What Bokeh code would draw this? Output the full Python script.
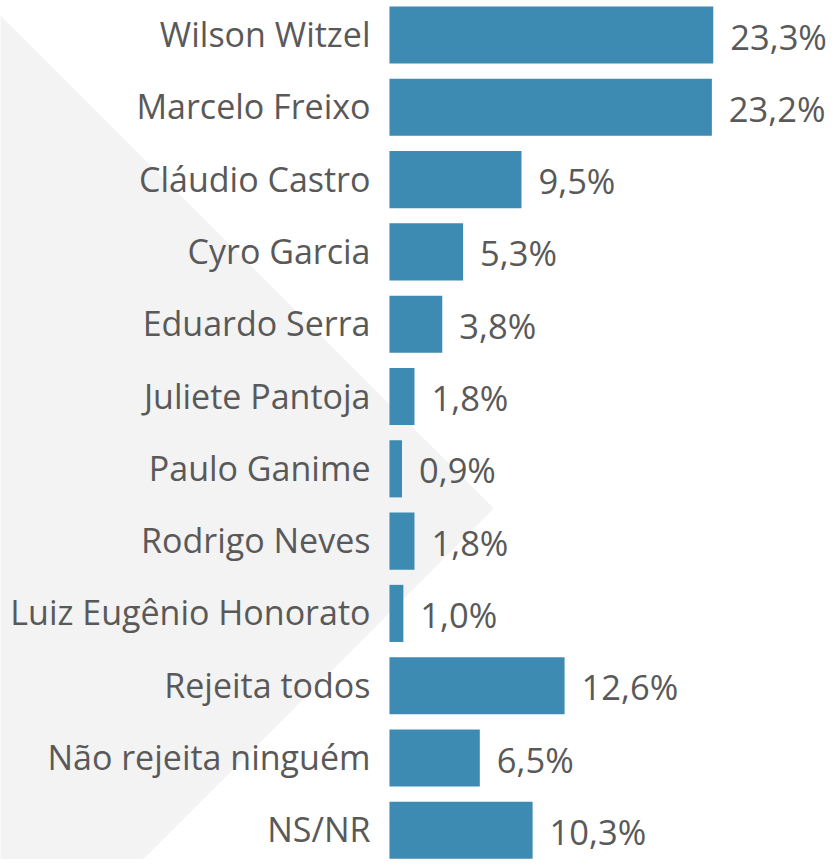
from bokeh.plotting import figure
from bokeh.models import Range1d, ColumnDataSource
from bokeh.core.properties import value
from bokeh.embed import file_html
from bokeh.resources import INLINE

categories = ["Wilson Witzel", "Marcelo Freixo", "Cláudio Castro", "Cyro Garcia",
              "Eduardo Serra", "Juliete Pantoja", "Paulo Ganime", "Rodrigo Neves",
              "Luiz Eugênio Honorato", "Rejeita todos", "Não rejeita ninguém", "NS/NR"]
values = [23.3, 23.2, 9.5, 5.3, 3.8, 1.8, 0.9, 1.8, 1.0, 12.6, 6.5, 10.3]
value_labels = [f"{v:.1f}".replace(".", ",") + "%" for v in values]

W, H = 832, 859
S = 0.9905                      # fit the 840x867 design into the figure
PX_PER_UNIT = 14.03 * S         # pixels per percentage point
X0 = 392.7 * S                  # pixel position of the bar baseline
ROW = 72.3                      # pixels per row
Y0 = 34.5                       # pixel centre of first row

BAR_COLOR = "#3d8ab2"
TEXT_COLOR = "#595959"
BG_SHAPE = "#f3f3f3"
FONT = "Open Sans"

p = figure(width=W, height=H, output_backend="svg", toolbar_location=None,
           x_range=Range1d(-X0 / PX_PER_UNIT, (W - X0) / PX_PER_UNIT),
           y_range=Range1d((H - Y0) / ROW, -Y0 / ROW),
           min_border=0, outline_line_color=None)
p.axis.visible = False
p.grid.visible = False
p.background_fill_color = "white"
p.border_fill_color = "white"

# decorative grey chevron in the background (pixel corners -> data units)
shape_px = [(-4, 10.9), (493.3, 508.1), (142.6, 859), (-4, 859)]
p.patch([(x - X0) / PX_PER_UNIT for x, _ in shape_px],
        [(y - Y0) / ROW for _, y in shape_px],
        fill_color=BG_SHAPE, line_color=None)

idx = list(range(len(categories)))
src = ColumnDataSource(dict(y=idx, v=values, cat=categories, lab=value_labels))

p.hbar(y="y", left=0, right="v", height=0.79, source=src,
       fill_color=BAR_COLOR, line_color=None)

p.text(x=0, y="y", text="cat", source=src, x_offset=-19, y_offset=-1,
       text_align="right", text_baseline="alphabetic",
       text_font=value(FONT), text_font_size="34px", text_color=TEXT_COLOR)

p.text(x="v", y="y", text="lab", source=src, x_offset=17, y_offset=1,
       text_align="left", text_baseline="alphabetic",
       text_font=value(FONT), text_font_size="34.5px", text_color=TEXT_COLOR)

open("out.html", "w").write(file_html(p, INLINE))
